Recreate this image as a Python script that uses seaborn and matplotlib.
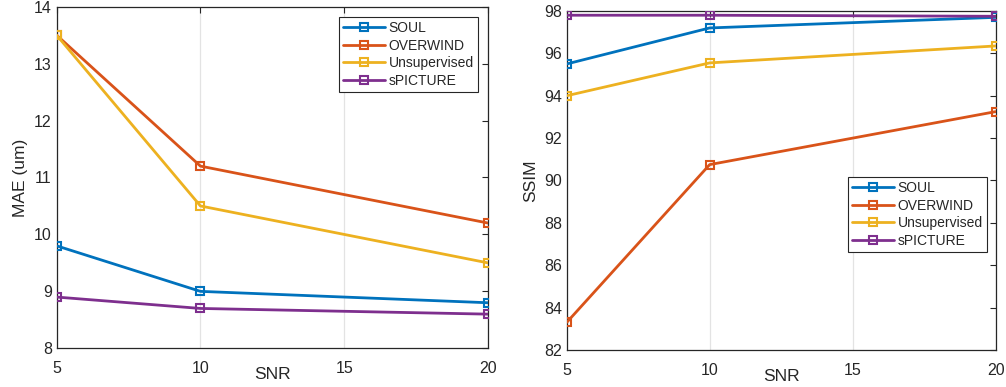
import matplotlib
matplotlib.use("Agg")
import matplotlib.pyplot as plt
import seaborn as sns
import pandas as pd

sns.set_theme(style="white")
plt.rcParams["font.family"] = ["Liberation Sans", "DejaVu Sans"]

snr = [5, 10, 20]
methods = ["SOUL", "OVERWIND", "Unsupervised", "sPICTURE"]
colors = ["#0072BD", "#D95319", "#EDB120", "#7E2F8E"]

mae_soul = [9.8, 9.0, 8.8]
mae_overwind = [13.5, 11.2, 10.2]
mae_unsup = [13.5, 10.5, 9.5]
mae_spicture = [8.9, 8.7, 8.6]

ssim_soul = [95.5, 97.2, 97.7]
ssim_overwind = [83.3, 90.75, 93.25]
ssim_unsup = [94.0, 95.55, 96.35]
ssim_spicture = [97.8, 97.8, 97.75]

mae = [mae_soul, mae_overwind, mae_unsup, mae_spicture]
ssim = [ssim_soul, ssim_overwind, ssim_unsup, ssim_spicture]


def long_table(values):
    rows = []
    for name, vals in zip(methods, values):
        for s, v in zip(snr, vals):
            rows.append({"SNR": s, "value": v, "method": name})
    return pd.DataFrame(rows)


fig = plt.figure(figsize=(10.06, 3.87), dpi=100)
ax1 = fig.add_axes([0.0563, 0.100, 0.4288, 0.8827])
ax2 = fig.add_axes([0.5633, 0.0956, 0.4264, 0.876])


def draw(ax, values, ylim, yticks, ylabel, legend_box):
    df = long_table(values)
    for name, col in zip(methods, colors):
        sns.lineplot(data=df[df["method"] == name], x="SNR", y="value", ax=ax,
                     color=col, linewidth=2.0, marker="s", markersize=5.5,
                     markerfacecolor="none", markeredgecolor=col,
                     markeredgewidth=1.5, label=name, zorder=3)
    ax.set_xlim(5, 20)
    ax.set_ylim(*ylim)
    ax.set_xticks([5, 10, 15, 20])
    ax.set_yticks(yticks)
    ax.xaxis.grid(True, color="#e3e3e3", linewidth=0.9)
    ax.yaxis.grid(False)
    ax.tick_params(direction="in", length=4, width=0.8, colors="#262626",
                   labelsize=11.5, top=True, right=True,
                   labelcolor="#262626")
    ax.tick_params(axis="x", pad=9)
    for sp in ax.spines.values():
        sp.set_color("#262626")
        sp.set_linewidth(0.9)
    ax.set_xlabel("SNR", fontsize=12.5, color="#262626", labelpad=-6)
    ax.set_ylabel(ylabel, fontsize=12.5, color="#262626", labelpad=4)
    leg = ax.legend(loc="upper left", bbox_to_anchor=legend_box,
                    fontsize=10, frameon=True, fancybox=False,
                    handlelength=3.0, handletextpad=0.25,
                    borderpad=0.3, labelspacing=0.25, borderaxespad=0)
    leg.get_frame().set_edgecolor("#262626")
    leg.get_frame().set_linewidth(0.8)
    leg.get_frame().set_alpha(1)
    for t in leg.get_texts():
        t.set_color("#262626")


draw(ax1, mae, (8, 14), [8, 9, 10, 11, 12, 13, 14], "MAE (um)", (0.655, 0.97))
draw(ax2, ssim, (82, 98), list(range(82, 99, 2)), "SSIM", (0.656, 0.51))

fig.savefig("out.png", dpi=100)
